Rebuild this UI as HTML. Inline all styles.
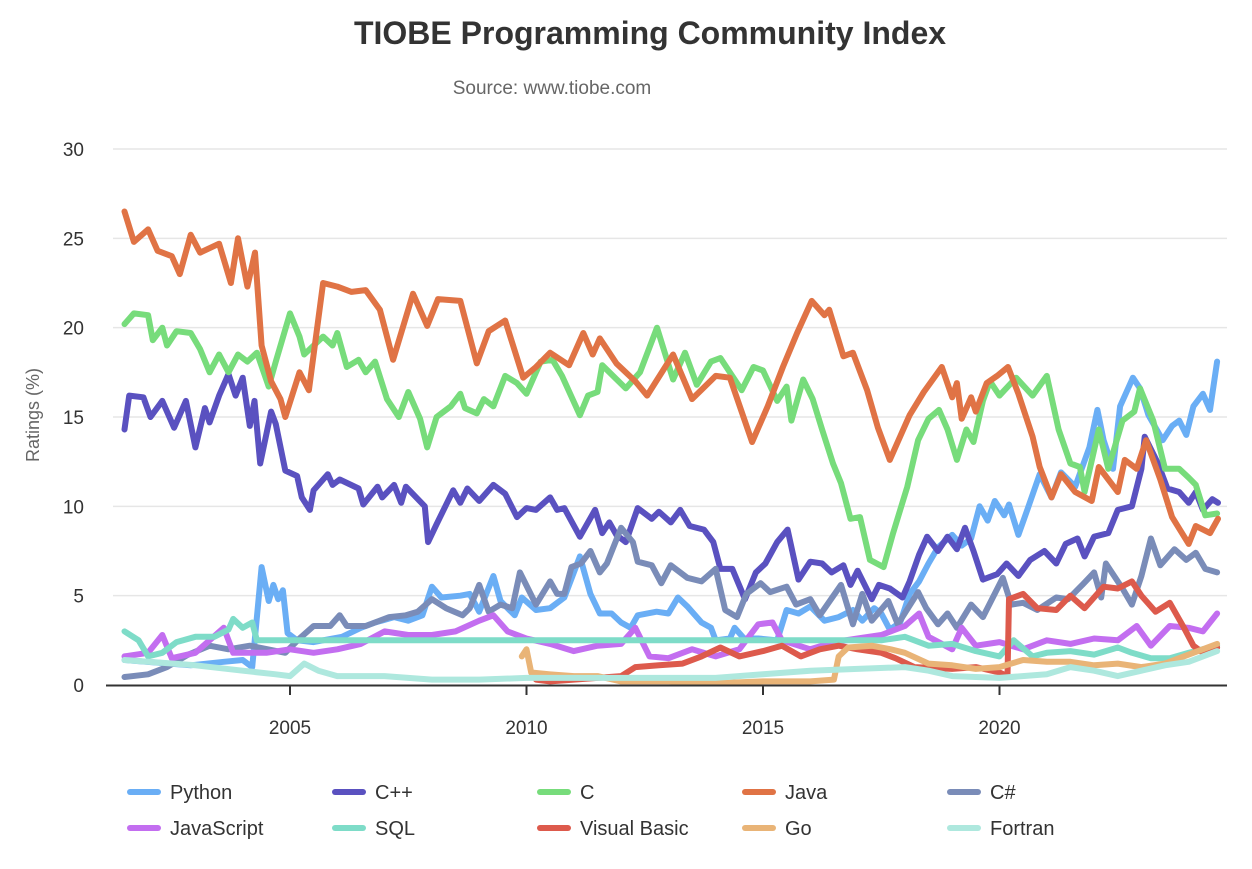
<!DOCTYPE html>
<html><head><meta charset="utf-8">
<style>
body{margin:0;background:#fff;font-family:"Liberation Sans",Arial,sans-serif;}
svg text{font-family:"Liberation Sans",Arial,sans-serif;}
</style></head>
<body>
<svg id="chart" width="1252" height="864" viewBox="0 0 1252 864" xmlns="http://www.w3.org/2000/svg">
<rect width="1252" height="864" fill="#fff"/>
<text x="650" y="44" text-anchor="middle" font-size="32" font-weight="bold" fill="#333">TIOBE Programming Community Index</text>
<text x="552" y="94" text-anchor="middle" font-size="19" fill="#666">Source: www.tiobe.com</text>
<text transform="translate(39,415) rotate(-90)" text-anchor="middle" font-size="18" fill="#666">Ratings (%)</text>
<g id="grid"></g><g id="series"></g><g id="axis"></g><g id="legend"></g>
</svg>
<script>
const yTicks=[0,5,10,15,20,25,30];
const xTicks=[2005,2010,2015,2020];
const seriesNames=["Python","C++","C","Java","C#","JavaScript","SQL","Visual Basic","Go","Fortran"];
const seriesColors=["#6aaef5","#5a51c0","#77dc7b","#e07345","#7a8cb8","#c36ef0","#7edcc8","#dd5a4c","#e9b477","#aee8de"];
const pythonYears=[2001.5,2002.9,2003.6,2004.0,2004.2,2004.4,2004.55,2004.65,2004.75,2004.85,2004.95,2005.15,2005.5,2006.1,2006.5,2006.8,2007.2,2007.5,2007.8,2008.0,2008.2,2008.6,2008.8,2009.0,2009.3,2009.45,2009.75,2009.9,2010.2,2010.5,2010.8,2011.13,2011.35,2011.55,2011.8,2012.0,2012.2,2012.35,2012.75,2013.0,2013.2,2013.4,2013.7,2013.9,2014.0,2014.3,2014.4,2014.6,2014.9,2015.3,2015.5,2015.75,2016.0,2016.3,2016.6,2016.9,2017.1,2017.35,2017.5,2017.68,2017.9,2018.1,2018.3,2018.5,2018.7,2019.0,2019.2,2019.4,2019.58,2019.75,2019.9,2020.1,2020.2,2020.4,2020.6,2020.85,2021.1,2021.3,2021.6,2021.9,2022.07,2022.2,2022.4,2022.55,2022.82,2022.97,2023.15,2023.45,2023.65,2023.8,2023.95,2024.1,2024.3,2024.45,2024.6];
const pythonValues=[1.4,1.1,1.3,1.4,1.0,6.6,4.7,5.6,4.8,5.3,2.9,2.5,2.4,2.7,3.2,3.5,3.8,3.6,3.9,5.5,4.9,5.0,5.1,4.1,6.1,4.7,3.9,4.9,4.2,4.3,4.9,7.2,5.1,4.0,4.0,3.5,3.2,3.9,4.1,4.0,4.9,4.4,3.5,3.2,2.5,2.6,3.2,2.6,2.6,2.5,4.2,4.0,4.4,3.6,3.8,4.2,3.6,4.3,4.0,3.1,3.5,5.1,5.8,6.8,7.7,8.4,7.8,8.2,10.0,9.2,10.3,9.5,10.1,8.4,9.9,11.8,10.5,11.9,11.1,13.3,15.4,13.7,12.1,15.6,17.2,16.6,15.1,13.7,14.5,14.8,14.0,15.6,16.3,15.4,18.1];
const cppYears=[2001.5,2001.6,2001.9,2002.05,2002.3,2002.55,2002.8,2003.0,2003.2,2003.3,2003.5,2003.7,2003.85,2004.0,2004.15,2004.25,2004.37,2004.6,2004.7,2004.9,2005.15,2005.25,2005.42,2005.5,2005.8,2005.9,2006.05,2006.45,2006.55,2006.85,2006.95,2007.2,2007.35,2007.45,2007.85,2007.92,2008.1,2008.45,2008.6,2008.75,2009.0,2009.3,2009.55,2009.8,2010.0,2010.2,2010.5,2010.65,2010.8,2011.13,2011.45,2011.6,2011.75,2011.9,2012.1,2012.35,2012.65,2012.8,2013.05,2013.25,2013.45,2013.75,2013.95,2014.1,2014.35,2014.62,2014.85,2015.05,2015.3,2015.52,2015.75,2016.0,2016.25,2016.45,2016.7,2016.85,2017.0,2017.3,2017.45,2017.68,2017.95,2018.1,2018.3,2018.47,2018.7,2018.9,2019.1,2019.27,2019.45,2019.65,2019.95,2020.15,2020.4,2020.65,2020.95,2021.2,2021.4,2021.65,2021.8,2022.0,2022.3,2022.5,2022.8,2023.0,2023.07,2023.35,2023.55,2023.8,2024.0,2024.15,2024.3,2024.5,2024.62];
const cppValues=[14.3,16.2,16.1,15.0,15.9,14.4,15.9,13.3,15.5,14.7,16.2,17.4,16.2,17.2,14.5,15.9,12.4,15.3,14.6,12.0,11.7,10.5,9.8,10.9,11.8,11.2,11.5,11.0,10.1,11.1,10.5,11.2,10.2,11.1,10.0,8.0,9.0,10.9,10.2,11.0,10.3,11.2,10.7,9.4,9.9,9.8,10.5,9.8,9.9,8.3,9.8,8.5,9.1,8.4,8.0,9.9,9.3,9.7,9.1,9.8,8.9,8.7,8.0,6.5,6.5,4.8,6.3,6.8,8.0,8.7,5.9,6.9,6.8,6.3,6.7,5.6,6.4,4.8,5.6,5.4,4.9,5.8,7.3,8.3,7.5,8.3,7.6,8.8,7.5,5.9,6.2,6.8,6.1,7.0,7.5,6.8,7.9,8.2,7.2,8.3,8.5,9.8,10.0,12.1,13.9,12.4,11.0,10.8,10.2,10.8,9.8,10.4,10.2];
const cYears=[2001.5,2001.7,2002.0,2002.1,2002.3,2002.4,2002.6,2002.9,2003.1,2003.3,2003.5,2003.7,2003.9,2004.1,2004.3,2004.55,2004.7,2005.0,2005.2,2005.3,2005.7,2005.9,2006.0,2006.2,2006.45,2006.6,2006.8,2007.05,2007.3,2007.5,2007.75,2007.9,2008.1,2008.4,2008.6,2008.7,2008.95,2009.1,2009.3,2009.55,2009.8,2010.0,2010.3,2010.55,2010.75,2011.13,2011.3,2011.5,2011.6,2012.1,2012.4,2012.76,2013.1,2013.35,2013.6,2013.9,2014.1,2014.55,2014.8,2015.0,2015.3,2015.5,2015.6,2015.85,2016.05,2016.25,2016.48,2016.65,2016.85,2017.05,2017.26,2017.55,2017.75,2018.05,2018.28,2018.5,2018.72,2018.9,2019.1,2019.3,2019.45,2019.65,2019.8,2020.0,2020.35,2020.7,2021.0,2021.25,2021.5,2021.7,2021.8,2022.1,2022.3,2022.6,2022.85,2022.97,2023.25,2023.5,2023.8,2024.0,2024.15,2024.35,2024.6];
const cValues=[20.2,20.8,20.7,19.3,20.0,19.0,19.8,19.7,18.8,17.5,18.5,17.5,18.5,18.1,18.6,16.7,18.1,20.8,19.5,18.5,19.5,19.0,19.7,17.8,18.2,17.5,18.1,16.0,15.0,16.4,14.9,13.3,15.0,15.6,16.3,15.5,15.2,16.0,15.6,17.3,16.9,16.3,18.1,18.2,17.3,15.1,16.2,16.4,17.9,16.6,17.5,20.0,17.1,18.6,16.8,18.1,18.3,16.5,17.8,17.6,15.9,16.7,14.8,17.1,16.0,14.3,12.4,11.3,9.3,9.4,7.0,6.6,8.5,11.1,13.7,14.9,15.4,14.3,12.6,14.3,13.6,15.9,17.0,16.2,17.2,16.2,17.3,14.3,12.4,12.2,10.8,14.3,12.1,14.8,15.3,16.6,14.8,12.1,12.1,11.6,11.2,9.5,9.6];
const javaYears=[2001.5,2001.7,2002.0,2002.2,2002.5,2002.67,2002.9,2003.1,2003.5,2003.75,2003.9,2004.1,2004.26,2004.4,2004.6,2004.8,2004.9,2005.2,2005.4,2005.7,2006.0,2006.3,2006.6,2006.9,2007.18,2007.6,2007.9,2008.13,2008.6,2008.95,2009.2,2009.55,2009.93,2010.2,2010.5,2010.9,2011.2,2011.4,2011.55,2011.9,2012.3,2012.55,2013.1,2013.5,2014.0,2014.3,2014.77,2015.1,2015.42,2015.72,2016.03,2016.3,2016.4,2016.7,2016.9,2017.2,2017.43,2017.68,2018.1,2018.4,2018.78,2019.0,2019.1,2019.2,2019.4,2019.5,2019.73,2019.95,2020.18,2020.4,2020.7,2020.85,2021.1,2021.3,2021.6,2021.95,2022.1,2022.5,2022.65,2022.9,2023.1,2023.4,2023.65,2024.0,2024.15,2024.45,2024.62];
const javaValues=[26.5,24.8,25.5,24.3,24.0,23.0,25.2,24.2,24.7,22.5,25.0,22.3,24.2,19.0,17.0,16.0,15.0,17.5,16.5,22.5,22.3,22.0,22.1,21.0,18.2,21.9,20.1,21.6,21.5,18.0,19.8,20.4,17.2,17.8,18.6,17.9,19.7,18.5,19.4,18.0,17.0,16.2,18.5,16.0,17.3,17.2,13.6,15.6,17.8,19.7,21.5,20.7,21.0,18.4,18.6,16.5,14.4,12.6,15.1,16.4,17.8,16.1,16.9,14.9,16.1,15.3,16.9,17.3,17.8,16.3,13.9,12.2,10.5,11.8,10.8,10.3,12.2,10.8,12.6,12.1,13.7,11.5,9.4,7.9,8.9,8.5,9.3];
const csYears=[2001.5,2002.0,2002.4,2002.85,2003.3,2003.7,2004.15,2004.9,2005.2,2005.5,2005.85,2006.05,2006.2,2006.6,2007.1,2007.45,2007.7,2008.0,2008.3,2008.65,2008.8,2009.0,2009.2,2009.45,2009.7,2009.86,2010.2,2010.5,2010.65,2010.8,2010.95,2011.15,2011.35,2011.55,2011.7,2012.0,2012.25,2012.35,2012.65,2012.85,2013.05,2013.4,2013.7,2014.0,2014.2,2014.45,2014.65,2014.95,2015.15,2015.5,2015.7,2016.0,2016.2,2016.65,2016.9,2017.1,2017.3,2017.65,2017.85,2018.28,2018.45,2018.7,2018.9,2019.1,2019.4,2019.65,2020.07,2020.25,2020.5,2020.8,2021.2,2021.45,2021.75,2022.0,2022.15,2022.25,2022.6,2022.8,2023.0,2023.2,2023.4,2023.7,2023.95,2024.15,2024.35,2024.6];
const csValues=[0.45,0.6,1.0,1.7,2.2,2.0,2.2,1.8,2.6,3.3,3.3,3.9,3.3,3.3,3.8,3.9,4.1,4.8,4.3,3.9,4.3,5.6,4.1,4.5,4.3,6.3,4.5,5.8,5.1,5.1,6.6,6.8,7.5,6.3,6.8,8.8,8.0,6.9,6.7,5.7,6.7,6.0,5.8,6.5,4.2,3.8,5.1,5.7,5.2,5.5,4.5,4.8,3.9,5.6,3.4,5.1,3.6,4.7,3.4,5.2,4.3,3.4,4.0,3.2,4.5,3.8,6.0,4.5,4.6,4.2,4.9,4.8,5.6,6.3,4.9,6.8,5.4,4.5,6.1,8.2,6.7,7.6,7.0,7.4,6.5,6.3];
const jsYears=[2001.5,2002.0,2002.3,2002.5,2003.0,2003.3,2003.6,2003.8,2004.5,2005.0,2005.5,2006.0,2006.5,2007.0,2007.5,2008.0,2008.5,2009.0,2009.3,2009.6,2010.0,2010.5,2011.0,2011.5,2012.0,2012.3,2012.6,2013.0,2013.5,2014.0,2014.5,2014.9,2015.2,2015.4,2016.0,2016.5,2017.0,2017.5,2018.0,2018.3,2018.5,2019.0,2019.2,2019.5,2020.0,2020.5,2021.0,2021.5,2022.0,2022.5,2022.9,2023.2,2023.6,2024.0,2024.3,2024.6];
const jsValues=[1.6,1.8,2.8,1.5,1.8,2.5,3.2,1.8,1.8,2.0,1.8,2.0,2.3,3.0,2.8,2.8,3.0,3.6,3.9,3.0,2.6,2.3,1.9,2.2,2.3,3.2,1.6,1.5,2.0,1.6,2.0,3.4,3.5,2.5,2.0,2.4,2.6,2.8,3.3,4.0,2.7,2.0,3.2,2.2,2.4,2.0,2.5,2.3,2.6,2.5,3.3,2.2,3.3,3.2,3.0,4.0];
const sqlYears=[2001.5,2001.8,2002.0,2002.3,2002.6,2003.0,2003.4,2003.7,2003.8,2004.0,2004.2,2004.3,2017.5,2018.0,2018.5,2019.0,2019.5,2020.0,2020.3,2020.7,2021.0,2021.5,2022.0,2022.5,2022.8,2023.2,2023.6,2024.0,2024.6];
const sqlValues=[3.0,2.5,1.6,1.8,2.4,2.7,2.7,3.1,3.7,3.2,3.5,2.5,2.5,2.7,2.2,2.3,1.9,1.6,2.5,1.6,1.8,1.9,1.7,2.1,1.8,1.5,1.5,1.8,2.2];
const vbYears=[2010.2,2010.5,2011.0,2012.0,2012.3,2012.8,2013.3,2013.7,2014.1,2014.5,2015.0,2015.4,2015.8,2016.2,2016.6,2017.0,2017.5,2017.8,2018.2,2019.0,2019.5,2020.0,2020.17,2020.2,2020.5,2020.8,2021.2,2021.5,2021.8,2022.2,2022.5,2022.8,2023.0,2023.3,2023.6,2023.9,2024.1,2024.3,2024.6];
const vbValues=[0.3,0.2,0.3,0.5,1.0,1.1,1.2,1.6,2.1,1.6,1.9,2.2,1.6,2.0,2.2,2.0,1.8,1.5,1.0,0.9,1.0,0.7,0.5,4.8,5.1,4.3,4.2,5.0,4.3,5.5,5.4,5.8,5.0,4.1,4.6,3.2,2.2,1.8,2.1];
const goYears=[2009.9,2010.0,2010.1,2010.5,2011.0,2011.5,2012.0,2013.0,2014.0,2015.0,2016.0,2016.5,2016.6,2016.8,2017.3,2017.7,2018.0,2018.5,2019.0,2019.5,2020.0,2020.5,2021.0,2021.5,2022.0,2022.5,2023.0,2023.5,2024.0,2024.6];
const goValues=[1.6,2.0,0.7,0.6,0.5,0.5,0.2,0.2,0.1,0.2,0.2,0.3,1.6,2.1,2.2,2.0,1.8,1.2,1.1,0.9,1.0,1.4,1.3,1.3,1.1,1.2,1.0,1.2,1.7,2.3];
const fortranYears=[2001.5,2002.0,2003.0,2004.0,2004.7,2005.0,2005.3,2005.6,2006.0,2007.0,2008.0,2009.0,2010.0,2012.0,2014.0,2015.0,2016.0,2017.0,2018.0,2018.5,2019.0,2020.0,2021.0,2021.5,2022.0,2022.5,2023.0,2023.5,2024.0,2024.6];
const fortranValues=[1.4,1.3,1.1,0.8,0.6,0.5,1.2,0.8,0.5,0.5,0.3,0.3,0.4,0.4,0.4,0.6,0.8,0.9,1.0,0.8,0.5,0.4,0.6,1.0,0.8,0.5,0.8,1.1,1.3,1.9];

const NS="http://www.w3.org/2000/svg";
const X0=2005,PX0=290,PXPY=47.3;
function xScale(yr){return PX0+(yr-X0)*PXPY;}
function yScale(v){return 685-v*(536/30);}
function mk(tag,attrs,parent){const e=document.createElementNS(NS,tag);for(const k in attrs)e.setAttribute(k,attrs[k]);parent.appendChild(e);return e;}
const grid=document.getElementById('grid'),axis=document.getElementById('axis'),ser=document.getElementById('series'),leg=document.getElementById('legend');
yTicks.forEach(t=>{
  if(t>0){const l=mk('line',{x1:113,x2:1227,y1:yScale(t),y2:yScale(t),stroke:'#e6e6e6','stroke-width':1.5},grid);
  
  }
  const tx=mk('text',{x:84,y:yScale(t)+7,'text-anchor':'end','font-size':19,fill:'#333'},axis);
  tx.textContent=t;
  
  
});
const ax=mk('line',{x1:106,x2:1227,y1:685.5,y2:685.5,stroke:'#333','stroke-width':2},axis);


xTicks.forEach(t=>{
  const tk=mk('line',{x1:xScale(t),x2:xScale(t),y1:685,y2:695,stroke:'#333','stroke-width':2},axis);
  
  
  const tx=mk('text',{x:xScale(t),y:734,'text-anchor':'middle','font-size':19,fill:'#333'},axis);
  tx.textContent=t;
  
  
});
const allYears=[pythonYears,cppYears,cYears,javaYears,csYears,jsYears,sqlYears,vbYears,goYears,fortranYears];
const allValues=[pythonValues,cppValues,cValues,javaValues,csValues,jsValues,sqlValues,vbValues,goValues,fortranValues];
seriesNames.forEach((n,i)=>{
  const pts=allYears[i].map((y,j)=>xScale(y).toFixed(1)+','+yScale(allValues[i][j]).toFixed(1)).join(' ');
  const p=mk('polyline',{points:pts,fill:'none',stroke:seriesColors[i],'stroke-width':6,'stroke-linejoin':'round','stroke-linecap':'round'},ser);
  
  
});
const colX=[130,335,540,745,950],rowY=[792,828];
seriesNames.forEach((n,i)=>{
  const x=colX[i%5],y=rowY[Math.floor(i/5)];
  const g=mk('g',{},leg);
  
  
  mk('line',{x1:x,x2:x+28,y1:y,y2:y,stroke:seriesColors[i],'stroke-width':6,'stroke-linecap':'round'},g);
  const t=mk('text',{x:x+40,y:y+7,'font-size':20,fill:'#333'},g);
  t.textContent=n;
});
</script>
</body></html>
